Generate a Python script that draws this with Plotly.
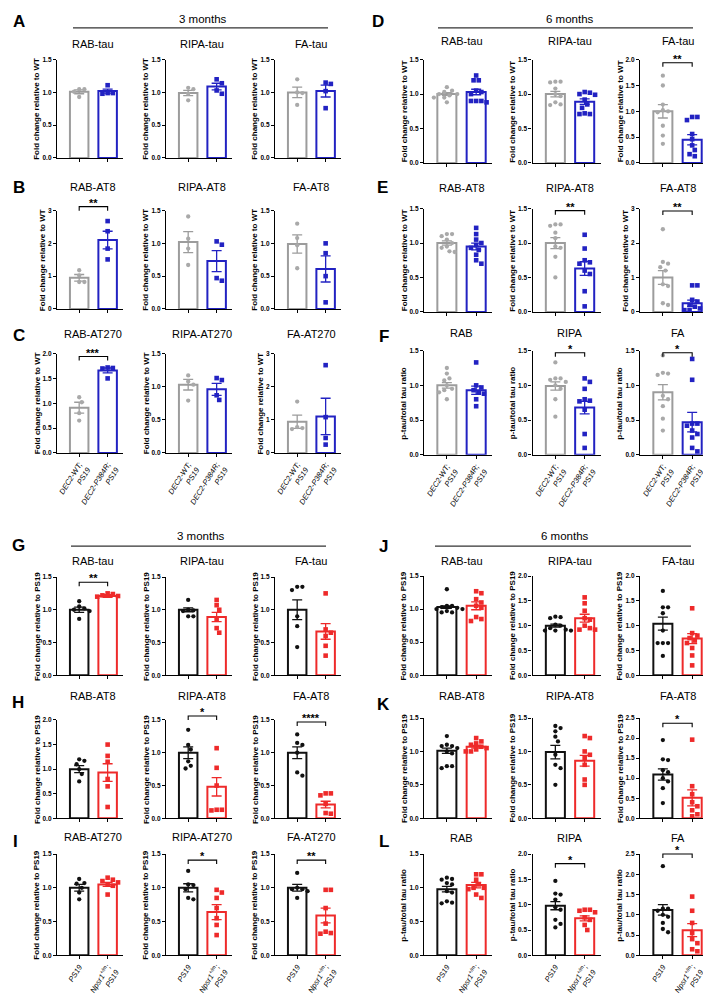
import plotly.graph_objects as go

W, H = 711, 996
FONT = "Arial, 'Liberation Sans', Helvetica, sans-serif"

# ---------------- data ----------------
# Top half: DEC2 cohorts (ctrl = DEC2-WT;PS19, mut = DEC2-P384R;PS19)
A_titles = ["RAB-tau", "RIPA-tau", "FA-tau"]
A_ctrl = [[1.05, 1.05, 1.01, 0.93], [1.07, 1.05, 0.98, 0.88], [1.20, 1.00, 0.99, 0.81]]
A_mut = [[1.11, 0.99, 0.99, 0.98], [1.20, 1.14, 1.03, 0.98], [1.15, 1.13, 1.02, 0.76]]
A_ctrl_mean = [1.01, 0.99, 1.00]
A_ctrl_sem = [0.03, 0.04, 0.08]
A_mut_mean = [1.02, 1.09, 1.02]
A_mut_sem = [0.03, 0.05, 0.09]
A_ymax = [1.5, 1.5, 1.5]
A_sig = ["", "", ""]
A_sig_y = [0, 0, 0]

B_titles = ["RAB-AT8", "RIPA-AT8", "FA-AT8"]
B_ctrl = [[1.18, 1.02, 0.82, 0.82], [1.41, 1.07, 0.92, 0.67], [1.30, 1.08, 0.97, 0.62]]
B_mut = [[2.68, 2.37, 1.84, 1.51], [1.03, 0.98, 0.47, 0.43], [1.00, 0.85, 0.50, 0.10]]
B_ctrl_mean = [0.95, 1.02, 0.99]
B_ctrl_sem = [0.10, 0.16, 0.14]
B_mut_mean = [2.10, 0.73, 0.61]
B_mut_sem = [0.27, 0.16, 0.20]
B_ymax = [3, 1.5, 1.5]
B_sig = ["**", "", ""]
B_sig_y = [3.12, 0, 0]

C_titles = ["RAB-AT270", "RIPA-AT270", "FA-AT270"]
C_ctrl = [[1.12, 1.02, 0.80, 0.65], [1.17, 1.08, 1.03, 0.79], [1.55, 0.78, 0.75, 0.72]]
C_mut = [[1.72, 1.71, 1.70, 1.50], [1.13, 1.10, 0.87, 0.80], [2.65, 1.08, 0.45, 0.25]]
C_ctrl_mean = [0.91, 1.03, 0.94]
C_ctrl_sem = [0.11, 0.08, 0.20]
C_mut_mean = [1.66, 0.96, 1.10]
C_mut_sem = [0.05, 0.09, 0.55]
C_ymax = [2.0, 1.5, 3]
C_sig = ["***", "", ""]
C_sig_y = [1.94, 0, 0]

D_titles = ["RAB-tau", "RIPA-tau", "FA-tau"]
D_ctrl = [[1.10, 1.05, 1.03, 1.00, 1.00, 0.98, 0.95, 0.95, 0.88],
          [1.18, 1.18, 1.17, 1.08, 1.00, 0.97, 0.88, 0.84, 0.85],
          [1.69, 1.50, 1.13, 1.02, 1.00, 0.98, 0.72, 0.53, 0.37]]
D_mut = [[1.27, 1.20, 1.20, 1.05, 1.03, 1.00, 0.90, 0.90, 0.90, 0.88],
         [1.03, 1.02, 1.00, 0.99, 0.92, 0.85, 0.80, 0.71, 0.71, 0.72],
         [0.89, 0.89, 0.83, 0.56, 0.46, 0.34, 0.25, 0.17, 0.13]]
D_ctrl_mean = [1.00, 1.00, 1.00]
D_ctrl_sem = [0.02, 0.04, 0.13]
D_mut_mean = [1.03, 0.89, 0.45]
D_mut_sem = [0.04, 0.04, 0.10]
D_ymax = [1.5, 1.5, 2.0]
D_sig = ["", "", "**"]
D_sig_y = [0, 0, 1.94]

E_titles = ["RAB-AT8", "RIPA-AT8", "FA-AT8"]
E_ctrl = [[1.13, 1.13, 1.10, 1.05, 1.00, 0.95, 0.93, 0.88, 0.87],
          [1.27, 1.27, 1.25, 1.15, 1.07, 0.95, 0.93, 0.80, 0.50],
          [2.40, 1.45, 1.40, 1.30, 1.20, 0.80, 0.75, 0.25, 0.20]]
E_mut = [[1.22, 1.13, 1.05, 1.00, 0.97, 0.93, 0.90, 0.83, 0.75, 0.70],
         [1.12, 0.92, 0.75, 0.72, 0.70, 0.60, 0.55, 0.30, 0.08],
         [0.77, 0.77, 0.35, 0.30, 0.20, 0.15, 0.10, 0.05, 0.05]]
E_ctrl_mean = [1.00, 1.00, 1.00]
E_ctrl_sem = [0.03, 0.08, 0.20]
E_mut_mean = [0.95, 0.63, 0.25]
E_mut_sem = [0.05, 0.10, 0.09]
E_ymax = [1.5, 1.5, 3]
E_sig = ["", "**", "**"]
E_sig_y = [0, 1.47, 2.93]

F_titles = ["RAB", "RIPA", "FA"]
F_ctrl = [[1.25, 1.17, 1.10, 1.07, 1.00, 0.95, 0.93, 0.90, 0.80],
          [1.33, 1.10, 1.10, 1.08, 1.05, 1.00, 0.95, 0.80, 0.55],
          [1.43, 1.18, 1.17, 1.15, 0.85, 0.80, 0.70, 0.52, 0.35]]
F_mut = [[1.33, 1.00, 0.97, 0.93, 0.90, 0.88, 0.80, 0.70],
         [1.10, 1.05, 0.95, 0.80, 0.78, 0.77, 0.65, 0.30, 0.10],
         [1.38, 1.08, 0.45, 0.45, 0.42, 0.35, 0.30, 0.25, 0.10, 0.05]]
F_ctrl_mean = [1.00, 0.99, 0.90]
F_ctrl_sem = [0.04, 0.06, 0.11]
F_mut_mean = [0.93, 0.68, 0.47]
F_mut_sem = [0.06, 0.09, 0.14]
F_ymax = [1.5, 1.5, 1.5]
F_sig = ["", "*", "*"]
F_sig_y = [0, 1.47, 1.47]

# Bottom half: Npsr1 cohorts (ctrl = PS19, mut = Npsr1;PS19)
G_titles = ["RAB-tau", "RIPA-tau", "FA-tau"]
G_ctrl = [[1.13, 1.05, 1.02, 1.00, 0.98, 0.86], [1.15, 1.00, 0.99, 0.98, 0.90, 0.90],
          [1.35, 1.35, 1.30, 0.90, 0.75, 0.43]]
G_mut = [[1.25, 1.24, 1.22, 1.21, 1.20, 1.18], [1.15, 1.07, 1.00, 0.85, 0.72, 0.65],
         [1.25, 0.70, 0.65, 0.60, 0.45, 0.30]]
G_ctrl_mean = [1.00, 1.00, 1.00]
G_ctrl_sem = [0.04, 0.03, 0.15]
G_mut_mean = [1.21, 0.89, 0.67]
G_mut_sem = [0.02, 0.07, 0.12]
G_ymax = [1.5, 1.5, 1.5]
G_sig = ["**", "", ""]
G_sig_y = [1.42, 0, 0]

H_titles = ["RAB-AT8", "RIPA-AT8", "FA-AT8"]
H_ctrl = [[1.20, 1.17, 1.10, 1.00, 0.90, 0.75], [1.35, 1.12, 1.05, 0.87, 0.80, 0.76],
          [1.28, 1.15, 1.12, 1.00, 0.70, 0.65]]
H_mut = [[1.50, 1.27, 1.15, 0.80, 0.65, 0.23], [1.07, 0.77, 0.50, 0.13, 0.13, 0.12],
         [0.38, 0.38, 0.35, 0.22, 0.08, 0.07]]
H_ctrl_mean = [1.00, 1.00, 1.00]
H_ctrl_sem = [0.07, 0.09, 0.09]
H_mut_mean = [0.93, 0.48, 0.21]
H_mut_sem = [0.18, 0.14, 0.05]
H_ymax = [2.0, 1.5, 1.5]
H_sig = ["", "*", "****"]
H_sig_y = [0, 1.56, 1.47]

I_titles = ["RAB-AT270", "RIPA-AT270", "FA-AT270"]
I_ctrl = [[1.13, 1.07, 1.06, 1.00, 0.93, 0.83], [1.25, 1.05, 1.04, 0.98, 0.85, 0.83],
          [1.22, 1.00, 0.98, 0.98, 0.95, 0.85]]
I_mut = [[1.15, 1.12, 1.10, 1.08, 1.05, 1.03, 0.90], [0.97, 0.93, 0.85, 0.70, 0.55, 0.45, 0.30],
         [0.97, 0.97, 0.70, 0.47, 0.35, 0.33, 0.32]]
I_ctrl_mean = [1.00, 1.00, 1.00]
I_ctrl_sem = [0.05, 0.06, 0.05]
I_mut_mean = [1.05, 0.64, 0.59]
I_mut_sem = [0.03, 0.11, 0.11]
I_ymax = [1.5, 1.5, 1.5]
I_sig = ["", "*", "**"]
I_sig_y = [0, 1.41, 1.41]

J_titles = ["RAB-tau", "RIPA-tau", "FA-tau"]
J_ctrl = [[1.30, 1.05, 1.05, 1.03, 1.02, 1.00, 1.00, 0.97, 0.95, 0.95],
          [1.18, 1.17, 1.15, 1.02, 1.00, 0.95, 0.92, 0.90, 0.90, 0.90],
          [1.70, 1.37, 1.37, 1.25, 0.90, 0.65, 0.65, 0.65, 0.39]]
J_mut = [[1.27, 1.24, 1.15, 1.10, 1.05, 1.02, 0.88, 0.85, 0.82],
         [1.57, 1.45, 1.30, 1.15, 1.12, 1.00, 0.95, 0.92, 0.92],
         [1.35, 0.85, 0.80, 0.75, 0.70, 0.65, 0.55, 0.40, 0.20]]
J_ctrl_mean = [1.03, 1.00, 1.04]
J_ctrl_sem = [0.02, 0.03, 0.13]
J_mut_mean = [1.05, 1.15, 0.74]
J_mut_sem = [0.06, 0.08, 0.10]
J_ymax = [1.5, 2.0, 2.0]
J_sig = ["", "", ""]
J_sig_y = [0, 0, 0]

K_titles = ["RAB-AT8", "RIPA-AT8", "FA-AT8"]
K_ctrl = [[1.23, 1.10, 1.08, 1.08, 1.05, 1.00, 0.97, 0.78, 0.78, 0.75],
          [1.38, 1.35, 1.30, 1.22, 1.15, 0.95, 0.80, 0.75, 0.50],
          [1.95, 1.47, 1.45, 1.20, 1.15, 1.00, 0.92, 0.75, 0.38]]
K_mut = [[1.20, 1.15, 1.12, 1.10, 1.07, 1.05, 1.03, 1.00, 1.00],
         [1.23, 1.20, 1.00, 0.95, 0.90, 0.80, 0.58, 0.50],
         [1.96, 0.80, 0.60, 0.40, 0.30, 0.20, 0.10, 0.05]]
K_ctrl_mean = [1.01, 0.99, 1.09]
K_ctrl_sem = [0.04, 0.10, 0.14]
K_mut_mean = [1.07, 0.86, 0.51]
K_mut_sem = [0.02, 0.08, 0.20]
K_ymax = [1.5, 1.5, 2.5]
K_sig = ["", "", "*"]
K_sig_y = [0, 0, 2.37]

L_titles = ["RAB", "RIPA", "FA"]
L_ctrl = [[1.15, 1.13, 1.12, 1.07, 1.05, 0.95, 0.93, 0.80, 0.78, 0.77],
          [1.47, 1.22, 1.20, 1.10, 0.95, 0.90, 0.70, 0.62, 0.55],
          [2.20, 1.15, 1.15, 1.10, 1.00, 0.95, 0.80, 0.65, 0.57]]
L_mut = [[1.20, 1.20, 1.12, 1.05, 1.00, 1.00, 0.98, 0.90, 0.85],
         [0.90, 0.90, 0.88, 0.85, 0.75, 0.70, 0.60, 0.50],
         [1.45, 1.10, 0.80, 0.55, 0.40, 0.30, 0.15, 0.10]]
L_ctrl_mean = [0.98, 0.98, 1.12]
L_ctrl_sem = [0.04, 0.08, 0.13]
L_mut_mean = [1.04, 0.73, 0.62]
L_mut_sem = [0.04, 0.05, 0.16]
L_ymax = [1.5, 2.0, 2.5]
L_sig = ["", "*", "*"]
L_sig_y = [0, 1.81, 2.5]

DEC2_labels = ["<i>DEC2-WT;</i><br><i>PS19</i>", "<i>DEC2-P384R;</i><br><i>PS19</i>"]
NPSR_labels = ["<i>PS19</i>", "<i>Npsr1<sup>+/m</sup>;</i><br><i>PS19</i>"]
YT_WT = "Fold change relative to WT"
YT_PS19 = "Fold change relative to PS19"
YT_RATIO = "p-tau/total tau ratio"
section_titles = ["3 months", "6 months", "3 months", "6 months"]

# ---------------- styling / geometry ----------------
GRAY, BLUE = "#9c9c9c", "#2222c2"
BLACK, RED = "#111111", "#ee2a2a"
TOP_COLORS = dict(c=GRAY, m=BLUE, cpt="#a9a9a9", mpt=BLUE, csym="circle", msym="square")
BOT_COLORS = dict(c=BLACK, m=RED, cpt=BLACK, mpt=RED, csym="circle", msym="square")

COL_AXIS_X = {"L": [49, 158, 267], "R": [416, 524.5, 632]}
COL_W = {"L": 66, "R": 68}
X_RANGE = [-0.78, 1.54]

# panel: (col, top, bottom, title_y, letter_x, letter_y)
GEOM = {
    "A": ("L", 48, 147, 32, 3, 10), "B": ("L", 200, 299, 176, 3, 177),
    "C": ("L", 344, 444, 324, 3, 326), "D": ("R", 48, 152, 29, 362, 10),
    "E": ("R", 198, 302, 177, 367, 177), "F": ("R", 341, 446, 323, 369, 327),
    "G": ("L", 569, 668, 553, 2, 537), "H": ("L", 713, 812, 689, 2, 695),
    "I": ("L", 848, 950, 831, 3, 835), "J": ("R", 568, 668, 553, 369, 538),
    "K": ("R", 711, 812, 689, 367, 697), "L": ("R", 848, 950, 832, 369, 835),
}

PANELS = [
    ("A", A_titles, A_ctrl, A_mut, A_ctrl_mean, A_ctrl_sem, A_mut_mean, A_mut_sem, A_ymax, A_sig, A_sig_y, YT_WT, TOP_COLORS, None),
    ("B", B_titles, B_ctrl, B_mut, B_ctrl_mean, B_ctrl_sem, B_mut_mean, B_mut_sem, B_ymax, B_sig, B_sig_y, YT_WT, TOP_COLORS, None),
    ("C", C_titles, C_ctrl, C_mut, C_ctrl_mean, C_ctrl_sem, C_mut_mean, C_mut_sem, C_ymax, C_sig, C_sig_y, YT_WT, TOP_COLORS, DEC2_labels),
    ("D", D_titles, D_ctrl, D_mut, D_ctrl_mean, D_ctrl_sem, D_mut_mean, D_mut_sem, D_ymax, D_sig, D_sig_y, YT_WT, TOP_COLORS, None),
    ("E", E_titles, E_ctrl, E_mut, E_ctrl_mean, E_ctrl_sem, E_mut_mean, E_mut_sem, E_ymax, E_sig, E_sig_y, YT_WT, TOP_COLORS, None),
    ("F", F_titles, F_ctrl, F_mut, F_ctrl_mean, F_ctrl_sem, F_mut_mean, F_mut_sem, F_ymax, F_sig, F_sig_y, YT_RATIO, TOP_COLORS, DEC2_labels),
    ("G", G_titles, G_ctrl, G_mut, G_ctrl_mean, G_ctrl_sem, G_mut_mean, G_mut_sem, G_ymax, G_sig, G_sig_y, YT_PS19, BOT_COLORS, None),
    ("H", H_titles, H_ctrl, H_mut, H_ctrl_mean, H_ctrl_sem, H_mut_mean, H_mut_sem, H_ymax, H_sig, H_sig_y, YT_PS19, BOT_COLORS, None),
    ("I", I_titles, I_ctrl, I_mut, I_ctrl_mean, I_ctrl_sem, I_mut_mean, I_mut_sem, I_ymax, I_sig, I_sig_y, YT_PS19, BOT_COLORS, NPSR_labels),
    ("J", J_titles, J_ctrl, J_mut, J_ctrl_mean, J_ctrl_sem, J_mut_mean, J_mut_sem, J_ymax, J_sig, J_sig_y, YT_PS19, BOT_COLORS, None),
    ("K", K_titles, K_ctrl, K_mut, K_ctrl_mean, K_ctrl_sem, K_mut_mean, K_mut_sem, K_ymax, K_sig, K_sig_y, YT_PS19, BOT_COLORS, None),
    ("L", L_titles, L_ctrl, L_mut, L_ctrl_mean, L_ctrl_sem, L_mut_mean, L_mut_sem, L_ymax, L_sig, L_sig_y, YT_RATIO, BOT_COLORS, NPSR_labels),
]

# section headers: (text index, center x, text y, line x0, line x1, line y)
SECTIONS = [(0, 195, 7, 65, 320, 16), (1, 562, 7, 430, 685, 16),
            (2, 193, 528, 63, 318, 538), (3, 557, 528, 427, 683, 538)]

TICK_FS = 6.5
YT_FS = 8


def fx(px):
    return px / W


def fy(py):
    return 1 - py / H


def swarm(vals, ppu_y, ppu_x, diam=5.2):
    """Simple beeswarm offsets (data units) so markers do not overlap."""
    order = sorted(range(len(vals)), key=lambda i: -vals[i])
    placed = []
    offs = [0.0] * len(vals)
    step = diam / 2.0
    for i in order:
        y = vals[i] * ppu_y
        for k in range(40):
            cand = ((k + 1) // 2) * step * (1 if k % 2 else -1)
            if all((cand - px) ** 2 + (y - py) ** 2 >= diam ** 2 for px, py in placed):
                break
        placed.append((cand, y))
        offs[i] = cand / ppu_x
    return offs


fig = go.Figure()
layout = {}
annotations = []
shapes = []

n = 0
for (key, titles, ctrl, mut, cm, cs, mm, ms, ymaxs, sigs, sigys, ytitle, colors, xlabels) in PANELS:
    col, top, bot, title_y, lx, ly = GEOM[key]
    annotations.append(dict(text=f"<b>{key}</b>", x=fx(lx), y=fy(ly), xref="paper", yref="paper",
                            xanchor="left", yanchor="middle", showarrow=False,
                            font=dict(size=17, family=FONT, color="black")))
    for j in range(3):
        n += 1
        xa = "x" if n == 1 else f"x{n}"
        ya = "y" if n == 1 else f"y{n}"
        ax_x = COL_AXIS_X[col][j]
        w = COL_W[col]
        ph = bot - top
        ymax = ymaxs[j]
        dtick = 1 if ymax == 3 else 0.5
        ppu_x = w / (X_RANGE[1] - X_RANGE[0])
        ppu_y = ph / ymax

        layout["xaxis" if n == 1 else f"xaxis{n}"] = dict(
            domain=[fx(ax_x), fx(ax_x + w)], range=X_RANGE, anchor=ya,
            showline=True, linecolor="black", linewidth=1.3, ticks="outside",
            ticklen=3, tickwidth=1.2, tickcolor="black", showgrid=False, zeroline=False,
            tickvals=[0, 1], ticktext=(xlabels if xlabels else ["", ""]),
            tickangle=-58, tickfont=dict(size=7.6, family=FONT, color="#000000"),
            fixedrange=True)
        layout["yaxis" if n == 1 else f"yaxis{n}"] = dict(
            domain=[fy(bot), fy(top)], range=[0, ymax], anchor=xa,
            showline=True, linecolor="black", linewidth=1.3, ticks="outside",
            ticklen=3, tickwidth=1.2, tickcolor="black", showgrid=False, zeroline=False,
            tick0=0, dtick=dtick, tickformat=("d" if dtick == 1 else ".1f"),
            tickfont=dict(size=TICK_FS, family=FONT, color="black", weight="bold"),
            fixedrange=True)

        # bars with SEM
        for gi, (mean, sem, col_c) in enumerate([(cm[j], cs[j], colors["c"]), (mm[j], ms[j], colors["m"])]):
            fig.add_trace(go.Bar(
                x=[gi], y=[mean], width=0.65, xaxis=xa, yaxis=ya,
                marker=dict(color="white", line=dict(color=col_c, width=2)),
                error_y=dict(type="data", array=[sem], color=col_c, thickness=1.3, width=5),
                showlegend=False, hoverinfo="skip"))
        # individual points
        for gi, (vals, pc, sym, sz) in enumerate([(ctrl[j], colors["cpt"], colors["csym"], 4.3),
                                                   (mut[j], colors["mpt"], colors["msym"], 4.6)]):
            offs = swarm(vals, ppu_y, ppu_x)
            fig.add_trace(go.Scatter(
                x=[gi + o for o in offs], y=vals, mode="markers", xaxis=xa, yaxis=ya,
                marker=dict(symbol=sym, size=sz, color=pc, line=dict(width=0)),
                cliponaxis=False, showlegend=False, hoverinfo="skip"))

        # subplot title
        bar_mid = ax_x + (0.5 - X_RANGE[0]) * ppu_x
        annotations.append(dict(text=titles[j], x=fx(bar_mid), y=fy(title_y), xref="paper", yref="paper",
                                xanchor="center", yanchor="middle", showarrow=False,
                                font=dict(size=11, family=FONT, color="black")))
        # y-axis title
        lab = f"{ymax:.0f}" if dtick == 1 else f"{ymax:.1f}"
        lab_w = sum(0.278 if ch == "." else 0.556 for ch in lab) * TICK_FS
        off = 3 + 2 + lab_w + 2 + YT_FS / 2
        annotations.append(dict(text=f"<b>{ytitle}</b>", x=fx(ax_x - off), y=fy((top + bot) / 2),
                                xref="paper", yref="paper", xanchor="center", yanchor="middle",
                                textangle=-90, showarrow=False,
                                font=dict(size=YT_FS, family=FONT, color="black")))
        # significance bracket
        if sigs[j]:
            x0 = (0 - X_RANGE[0]) / (X_RANGE[1] - X_RANGE[0])
            x1 = (1 - X_RANGE[0]) / (X_RANGE[1] - X_RANGE[0])
            yb = sigys[j] / ymax
            t = 4.0 / ph
            shapes.append(dict(type="path", xref=f"{xa} domain", yref=f"{ya} domain",
                               path=f"M {x0},{yb - t} L {x0},{yb} L {x1},{yb} L {x1},{yb - t}",
                               line=dict(color="black", width=1.1)))
            annotations.append(dict(text=f"<b>{sigs[j]}</b>", x=0.5, y=yb, xref=xa, yref=f"{ya} domain",
                                    xanchor="center", yanchor="bottom", yshift=-4, showarrow=False,
                                    font=dict(size=11, family=FONT, color="#000000")))

for idx, cx, ty, lx0, lx1, lyy in SECTIONS:
    annotations.append(dict(text=section_titles[idx], x=fx(cx), y=fy(ty), xref="paper", yref="paper",
                            xanchor="center", yanchor="middle", showarrow=False,
                            font=dict(size=11.5, family=FONT, color="black")))
    shapes.append(dict(type="line", xref="paper", yref="paper", x0=fx(lx0), x1=fx(lx1),
                       y0=fy(lyy), y1=fy(lyy), line=dict(color="#333333", width=1.3)))

fig.update_layout(
    width=W, height=H, margin=dict(l=0, r=0, t=0, b=0),
    paper_bgcolor="white", plot_bgcolor="rgba(0,0,0,0)",
    showlegend=False, barmode="overlay", hovermode=False,
    font=dict(family=FONT, color="black"),
    annotations=annotations, shapes=shapes, **layout)

fig.write_html("out.html")
